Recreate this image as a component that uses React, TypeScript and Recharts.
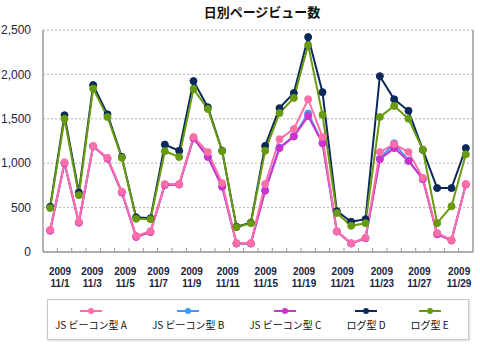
import { LineChart, Line, XAxis, YAxis, CartesianGrid, ReferenceLine } from 'recharts';

const TITLE = '日別ページビュー数';

const DAYS = [
    '11/1', '11/2', '11/3', '11/4', '11/5', '11/6', '11/7', '11/8', '11/9', '11/10',
    '11/11', '11/12', '11/13', '11/14', '11/15', '11/16', '11/17', '11/18', '11/19', '11/20',
    '11/21', '11/22', '11/23', '11/24', '11/25', '11/26', '11/27', '11/28', '11/29', '11/30',
];

// axis labels as printed under the chart (the original skips some dates)
const TICK_YEAR = '2009';
const TICK_LABELS = ['11/1', '11/3', '11/5', '11/7', '11/9', '11/11', '11/15', '11/19', '11/21', '11/23', '11/27', '11/29'];
const TICK_LABEL_POS = [0.69, 2.94, 5.24, 7.55, 9.88, 12.39, 15.04, 17.71, 20.41, 23.14, 25.76, 28.53];

const Y_TICKS = [0, 500, 1000, 1500, 2000, 2500];

const SERIES_A = [250, 1010, 340, 1195, 1060, 680, 180, 235, 765, 765, 1295, 1125, 775, 100, 100, 765, 1270, 1385, 1720, 1295, 235, 100, 160, 1125, 1215, 1125, 835, 215, 135, 765];
const SERIES_B = [242, 1002, 332, 1190, 1052, 672, 172, 227, 757, 760, 1282, 1075, 738, 96, 96, 695, 1175, 1305, 1560, 1230, 231, 96, 156, 1050, 1225, 1030, 822, 202, 131, 761];
const SERIES_C = [240, 1000, 330, 1190, 1050, 670, 170, 225, 755, 760, 1280, 1070, 735, 95, 95, 690, 1170, 1300, 1530, 1225, 230, 95, 155, 1045, 1170, 1025, 820, 200, 130, 760];
const SERIES_D = [510, 1540, 670, 1880, 1550, 1070, 390, 380, 1210, 1140, 1925, 1630, 1140, 285, 330, 1195, 1620, 1790, 2420, 1800, 460, 340, 370, 1980, 1720, 1590, 1150, 720, 720, 1170];
const SERIES_E = [495, 1500, 640, 1840, 1520, 1060, 375, 370, 1135, 1070, 1835, 1610, 1135, 280, 325, 1140, 1565, 1735, 2330, 1545, 440, 295, 325, 1520, 1645, 1500, 1150, 325, 515, 1100];

const SERIES = [
    { key: 'A', name: 'JS ビーコン型 A', color: '#ff6ea8' },
    { key: 'B', name: 'JS ビーコン型 B', color: '#3c9cf5' },
    { key: 'C', name: 'JS ビーコン型 C', color: '#cc33cc' },
    { key: 'D', name: 'ログ型 D', color: '#0b2a5a' },
    { key: 'E', name: 'ログ型 E', color: '#689a10' },
];

// pink sits on top of magenta/blue in the original, blue mostly hidden
const DRAW_ORDER = ['B', 'C', 'A', 'D', 'E'];

const data = DAYS.map((day, i) => ({
    idx: i,
    day,
    A: SERIES_A[i],
    B: SERIES_B[i],
    C: SERIES_C[i],
    D: SERIES_D[i],
    E: SERIES_E[i],
}));

const MARK_TICKS = DAYS.slice(1).map((_d, i) => i + 0.5);
const ALL_TICKS = [...MARK_TICKS, ...TICK_LABEL_POS];

const AXIS = '#9a9a9a';
const TEXT = '#1b2440';

function XTick(props: any) {
    const { x, y, payload } = props;
    const li = TICK_LABEL_POS.indexOf(payload.value);
    if (li < 0) {
        return <line x1={x} x2={x} y1={y} y2={y - 4} stroke={AXIS} strokeWidth={1} />;
    }
    return (
        <text x={x} y={y} textAnchor="middle" fontSize={10} fontWeight="bold" fill={TEXT} fontFamily="Liberation Sans, Arial, sans-serif">
            <tspan x={x} dy={23}>{TICK_YEAR}</tspan>
            <tspan x={x} dy={12}>{TICK_LABELS[li]}</tspan>
        </text>
    );
}

export default function App() {
    return (
        <div style={{ position: 'absolute', left: 0, top: 0, width: 480, height: 347, background: '#fff' }}>
            <div
                style={{
                    position: 'absolute',
                    left: 43,
                    top: 3,
                    width: 438,
                    textAlign: 'center',
                    fontFamily: '"Noto Sans CJK JP", sans-serif',
                    fontWeight: 'bold',
                    fontSize: 13,
                    color: '#111',
                    lineHeight: '18px',
                }}
            >
                {TITLE}
            </div>
            <LineChart width={480} height={300} data={data} margin={{ top: 30, right: 7, bottom: 0, left: 0 }}>
                <CartesianGrid vertical={false} stroke="#b5b5b5" strokeDasharray="2 2" />
                <XAxis
                    dataKey="idx"
                    type="number"
                    domain={[-0.5, 29.5]}
                    ticks={ALL_TICKS}
                    interval={0}
                    tick={XTick}
                    tickLine={false}
                    tickSize={0}
                    tickMargin={0}
                    height={48}
                    axisLine={{ stroke: AXIS, strokeWidth: 1.5 }}
                />
                <YAxis
                    domain={[0, 2500]}
                    ticks={Y_TICKS}
                    width={43}
                    tickLine={false}
                    tickMargin={6}
                    axisLine={{ stroke: AXIS, strokeWidth: 1.5 }}
                    tick={{ fill: TEXT, fontSize: 12, fontFamily: 'Liberation Sans, Arial, sans-serif' }}
                    tickFormatter={(v: number) => v.toLocaleString('en-US')}
                />
                <ReferenceLine x={29.5} stroke={AXIS} strokeWidth={1.5} />
                {DRAW_ORDER.map((k) => {
                    const s = SERIES.find((x) => x.key === k)!;
                    return (
                        <Line
                            key={k}
                            type="linear"
                            dataKey={k}
                            name={s.name}
                            stroke={s.color}
                            strokeWidth={2}
                            dot={{ r: 3.5, fill: s.color, stroke: s.color, strokeWidth: 1 }}
                            activeDot={false}
                            isAnimationActive={false}
                        />
                    );
                })}
            </LineChart>
            <div
                style={{
                    position: 'absolute',
                    left: 47,
                    top: 299,
                    width: 422,
                    height: 41,
                    border: '1px solid #c8c8c8',
                    boxShadow: '1px 1px 2px rgba(0,0,0,0.15)',
                    display: 'flex',
                    alignItems: 'center',
                    gap: 25,
                    paddingLeft: 7,
                    boxSizing: 'border-box',
                    fontFamily: '"Noto Sans CJK JP", sans-serif',
                    fontSize: 10,
                    color: '#111',
                }}
            >
                {SERIES.map((s) => (
                    <div key={s.key} style={{ display: 'flex', flexDirection: 'column', alignItems: 'center' }}>
                        <svg width={22} height={8}>
                            <line x1={0} x2={22} y1={4} y2={4} stroke={s.color} strokeWidth={2} />
                            <circle cx={11} cy={4} r={3} fill={s.color} />
                        </svg>
                        <span style={{ lineHeight: '14px', marginTop: 3, whiteSpace: 'nowrap' }}>{s.name}</span>
                    </div>
                ))}
            </div>
        </div>
    );
}
